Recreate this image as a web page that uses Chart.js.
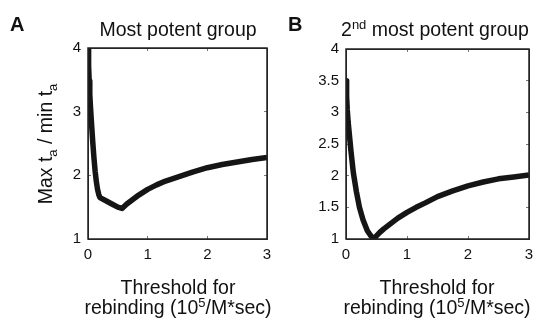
<!DOCTYPE html>
<html>
<head>
<meta charset="utf-8">
<script src="https://cdn.jsdelivr.net/npm/chart.js@4.4.0/dist/chart.umd.min.js"></script>
<style>
  body { margin: 0; background: #fff; }
  canvas { position: absolute; top: 0; }
</style>
</head>
<body>
<canvas id="chartA" width="285" height="325" style="left:0"></canvas>
<canvas id="chartB" width="267" height="325" style="left:270px"></canvas>

<script>
// panel A: most potent group
var xA = [0, 0.01, 0.02, 0.03, 0.04, 0.06, 0.08, 0.1, 0.12, 0.14, 0.16, 0.18, 0.2, 0.3, 0.4, 0.5, 0.57,
          0.65, 0.75, 0.85, 1.0, 1.15, 1.3, 1.5, 1.75, 2.0, 2.25, 2.5, 2.75, 3.0];
var yA = [4.0, 3.72, 3.48, 3.27, 3.1, 2.8, 2.52, 2.27, 2.06, 1.9, 1.78, 1.7, 1.65, 1.6, 1.55, 1.5, 1.48,
          1.55, 1.62, 1.69, 1.78, 1.85, 1.91, 1.97, 2.05, 2.12, 2.17, 2.21, 2.25, 2.28];

// panel B: 2nd most potent group
var xB = [0, 0.01, 0.02, 0.035, 0.05, 0.08, 0.12, 0.17, 0.22, 0.28, 0.35, 0.4, 0.45,
          0.5, 0.55, 0.62, 0.7, 0.85, 1.0, 1.15, 1.3, 1.5, 1.75, 2.0, 2.25, 2.5, 2.75, 3.0];
var yB = [3.5, 3.25, 3.05, 2.85, 2.7, 2.4, 2.05, 1.75, 1.5, 1.3, 1.13, 1.06, 1.0,
          1.05, 1.1, 1.16, 1.22, 1.33, 1.42, 1.5, 1.57, 1.67, 1.76, 1.84, 1.9, 1.95, 1.98, 2.01];

var xTicks = [0, 1, 2, 3];
var yTicksA = [1, 2, 3, 4];
var yTicksB = [1, 1.5, 2, 2.5, 3, 3.5, 4];

// texts, split in pieces so sub/superscripts can be drawn
var titleA = [{ t: 'Most potent group' }];
var titleB = [{ t: '2' }, { t: 'nd', sup: true }, { t: ' most potent group' }];
var xTitle1 = [{ t: 'Threshold for' }];
var xTitle2 = [{ t: 'rebinding (10' }, { t: '5', sup: true }, { t: '/M*sec)' }];
var yTitle = [{ t: 'Max t' }, { t: 'a', sub: true }, { t: ' / min t' }, { t: 'a', sub: true }];

var FAMILY = '"Liberation Sans", Arial, sans-serif';
var tickFont = { family: FAMILY, size: 15 };

function drawRich(ctx, parts, size, cx, y) {
  var big = size + 'px ' + FAMILY, small = Math.round(size * 0.67) + 'px ' + FAMILY;
  var widths = [], total = 0;
  parts.forEach(function (p) {
    ctx.font = (p.sub || p.sup) ? small : big;
    var w = ctx.measureText(p.t).width;
    widths.push(w);
    total += w;
  });
  var x = cx - total / 2;
  parts.forEach(function (p, i) {
    ctx.font = (p.sub || p.sup) ? small : big;
    var dy = p.sub ? size * 0.25 : (p.sup ? -size * 0.38 : 0);
    ctx.fillText(p.t, x, y + dy);
    x += widths[i];
  });
}

function textPlugin(t) {
  return {
    id: 'panelText',
    afterDraw: function (chart) {
      var ctx = chart.ctx, a = chart.chartArea;
      ctx.save();
      // plot frame
      try {
        ctx.strokeStyle = '#222';
        ctx.lineWidth = 1.5;
        ctx.strokeRect(a.left, a.top, a.right - a.left, a.bottom - a.top);
      } catch (e) { console.error(e); }
      ctx.fillStyle = '#111';
      ctx.textAlign = 'left';
      ctx.textBaseline = 'alphabetic';
      ctx.font = 'bold 20px ' + FAMILY;
      ctx.fillText(t.letter, t.letterX, 31);
      drawRich(ctx, t.title, 19.5, t.titleX, 36);
      drawRich(ctx, xTitle1, 19.5, t.xTitleX, 294);
      drawRich(ctx, xTitle2, 19.5, t.xTitleX, 314);
      if (t.yTitle) {
        ctx.translate(52, 144);
        ctx.rotate(-Math.PI / 2);
        drawRich(ctx, t.yTitle, 19.5, 0, 0);
      }
      ctx.restore();
    }
  };
}

// one side of the matlab-style box: border line plus short ticks pointing inward
function boxAxis(position, min, max, ticks, size, showLabels) {
  var horiz = position === 'top' || position === 'bottom';
  return {
    type: 'linear', position: position, min: min, max: max,
    afterFit: function (s) {
      if (horiz) { s.height = size; s.paddingLeft = 0; s.paddingRight = 0; }
      else { s.width = size; s.paddingTop = 0; s.paddingBottom = 0; }
    },
    afterBuildTicks: function (s) { s.ticks = ticks.map(function (v) { return { value: v }; }); },
    grid: { display: true, drawOnChartArea: false, drawTicks: true, tickLength: -3, color: '#777' },
    border: { display: true, color: '#333', width: 1 },
    ticks: {
      display: showLabels, font: tickFont, color: '#111', padding: 10, maxRotation: 0,
      callback: function (v) { return String(v); }
    }
  };
}

function makeChart(id, xs, ys, yTicks, pad, texts) {
  var pts = xs.map(function (x, i) { return { x: x, y: ys[i] }; });
  return new Chart(document.getElementById(id).getContext('2d'), {
    type: 'line',
    data: {
      datasets: [{
        data: pts,
        borderColor: '#151515',
        borderWidth: 5.5,
        borderJoinStyle: 'round',
        pointRadius: 0,
        tension: 0,
        fill: false
      }]
    },
    options: {
      responsive: false,
      animation: false,
      layout: { padding: pad },
      plugins: { legend: { display: false }, tooltip: { enabled: false } },
      scales: {
        x: boxAxis('bottom', 0, 3, xTicks, 26, true),
        y: boxAxis('left', 1, 4, yTicks, 40, true),
        x2: boxAxis('top', 0, 3, xTicks, 0, false),
        y2: boxAxis('right', 1, 4, yTicks, 0, false)
      }
    },
    plugins: [textPlugin(texts)]
  });
}

makeChart('chartA', xA, yA, yTicksA, { left: 48, right: 18, top: 48, bottom: 60 },
  { letter: 'A', letterX: 10, title: titleA, titleX: 178, xTitleX: 178, yTitle: yTitle });
makeChart('chartB', xB, yB, yTicksB, { left: 36, right: 8, top: 49, bottom: 60 },
  { letter: 'B', letterX: 18, title: titleB, titleX: 165, xTitleX: 167 });
</script>
</body>
</html>
